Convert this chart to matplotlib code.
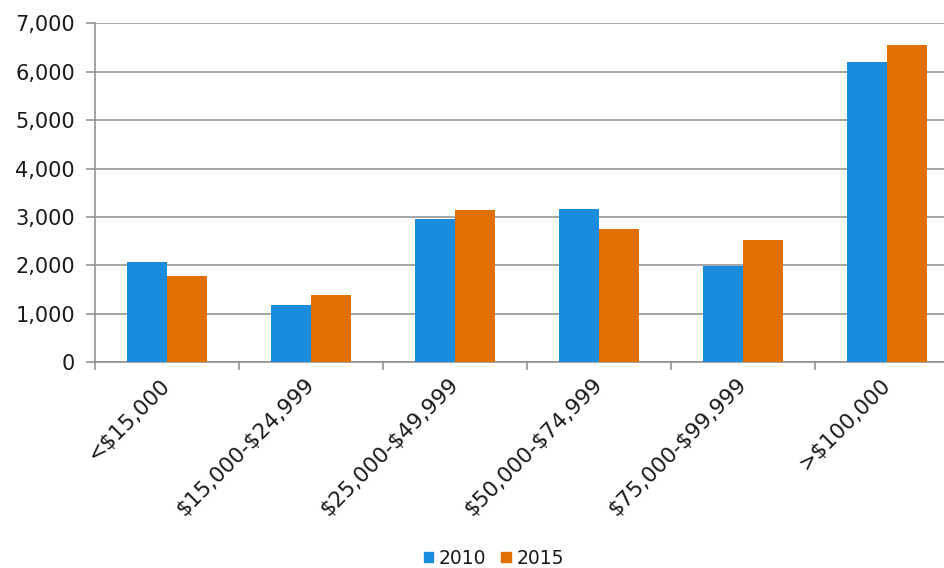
import matplotlib.pyplot as plt
import numpy as np
from matplotlib.patches import Patch

categories = ["<$15,000", "$15,000-$24,999", "$25,000-$49,999",
              "$50,000-$74,999", "$75,000-$99,999", ">$100,000"]
values_2010 = [2080, 1180, 2950, 3160, 1990, 6210]
values_2015 = [1790, 1400, 3140, 2750, 2520, 6550]
series_names = ["2010", "2015"]

blue = "#1B8BDB"
orange = "#E26F02"
grid_grey = "#8C8C8C"
text_col = "#1a1a1a"

# dollar signs are literal text here, not mathtext
plt.rcParams["text.parse_math"] = False

fig = plt.figure(figsize=(9.45, 5.68), dpi=100)
# axes runs a bit past the right edge, as in the source image
ax = fig.add_axes([95 / 945, 1 - 362.3 / 568, 864 / 945, 339 / 568])

x = np.arange(len(categories))
w = 0.28
ax.bar(x - w / 2, values_2010, width=w, color=blue, zorder=3)
ax.bar(x + w / 2, values_2015, width=w, color=orange, zorder=3)

ax.set_xlim(-0.5, len(categories) - 0.5)
ax.set_ylim(0, 7000)
ax.set_yticks(range(0, 7001, 1000))
ax.set_yticklabels([f"{v:,}" for v in range(0, 7001, 1000)])
ax.yaxis.grid(True, color=grid_grey, linewidth=1.1, zorder=0)

# category ticks sit on the boundaries, labels at the centres
ax.set_xticks(np.arange(len(categories) + 1) - 0.5)
ax.set_xticklabels([])
ax.set_xticks(x, minor=True)
ax.set_xticklabels(categories, minor=True, rotation=45, ha="right",
                   va="center", rotation_mode="anchor", fontsize=15.5,
                   color=text_col)
ax.tick_params(axis="x", which="minor", length=0, pad=14)
ax.tick_params(axis="x", which="major", length=6, color=grid_grey, width=1.1)
ax.tick_params(axis="y", length=6.5, color=grid_grey, width=1.1, pad=8,
               labelsize=15, labelcolor=text_col)

for side in ["top", "right"]:
    ax.spines[side].set_visible(False)
for side in ["left", "bottom"]:
    ax.spines[side].set_color(grid_grey)
    ax.spines[side].set_linewidth(1.1)

handles = [Patch(color=blue), Patch(color=orange)]
fig.legend(handles, series_names, loc="center", bbox_to_anchor=(494 / 945, 1 - 558 / 568),
           ncol=2, frameon=False, fontsize=13.5, handlelength=0.5, handleheight=0.5,
           handletextpad=0.3, columnspacing=0.8, labelcolor=text_col)

fig.savefig("out.png", dpi=100)
